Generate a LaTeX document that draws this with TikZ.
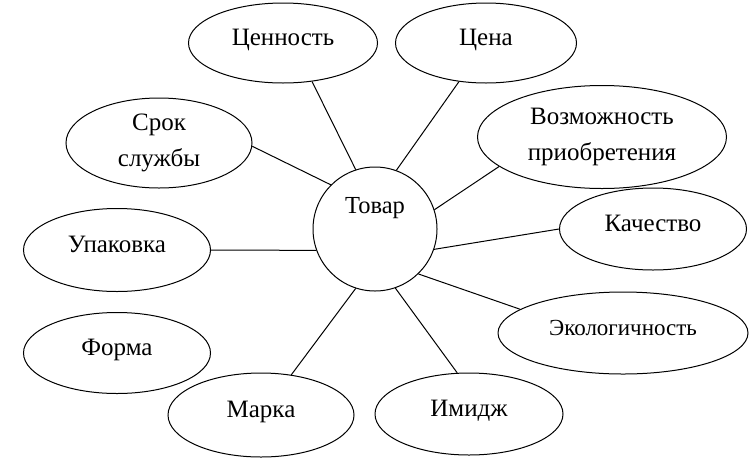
\documentclass[tikz,border=0pt]{standalone}
\usepackage{fontspec}
\setmainfont{Liberation Serif}
\usetikzlibrary{shapes.geometric}
\tikzset{
  oval/.style={draw, ellipse, line width=1pt, inner sep=0pt, font=\fontsize{25}{36}\selectfont, align=center},
  oneline/.style={oval, text height=17pt, text depth=13pt},
  link/.style={line width=1pt},
}
\begin{document}
\begin{tikzpicture}[x=1pt,y=-1pt]
\useasboundingbox (0,0) rectangle (754,464);
\node[draw, circle, line width=1pt, minimum size=124pt, inner sep=0pt] (tovar) at (375,229) {};
\node[font=\fontsize{24.5}{28}\selectfont] (tovarlbl) at (375,208) {Товар};
\node[oneline, minimum width=189pt, minimum height=80pt] (cennost) at (283,43) {Ценность};
\node[oneline, minimum width=181pt, minimum height=80pt] (cena) at (486,43) {Цена};
\node[oval, minimum width=186pt, minimum height=90pt] (srok) at (159,143) {Срок\\службы};
\node[oval, minimum width=249pt, minimum height=103pt] (vozm) at (602,137) {Возможность\\приобретения};
\node[oneline, minimum width=187pt, minimum height=82pt] (kach) at (653,229) {Качество};
\node[oneline, minimum width=187pt, minimum height=83pt] (upak) at (117,250) {Упаковка};
\node[oneline, minimum width=250pt, minimum height=82pt, font=\fontsize{23}{28}\selectfont] (eko) at (623,333) {Экологичность};
\node[oneline, minimum width=187pt, minimum height=81pt] (forma) at (117,353) {Форма};
\node[oneline, minimum width=186pt, minimum height=84pt] (marka) at (261,415) {Марка};
\node[oneline, minimum width=188pt, minimum height=82pt] (imidzh) at (469,414) {Имидж};
\draw[link] (tovar.108) -- (cennost.-53);
\draw[link] (tovar.70.5) -- (cena.235);
\draw[link] (tovar.135.7) -- (srok.-2.5);
\draw[link] (tovar.200) -- (upak.east);
\draw[link] (tovar.252.4) -- (marka.53.6);
\draw[link] (tovar.289.3) -- (imidzh.106.3);
\draw[link] (tovar.314.3) -- (eko.167.8);
\draw[link] (tovar.18.7) -- (vozm.196.9);
\draw[link] (tovar.341.3) -- (kach.180);
\end{tikzpicture}
\end{document}
